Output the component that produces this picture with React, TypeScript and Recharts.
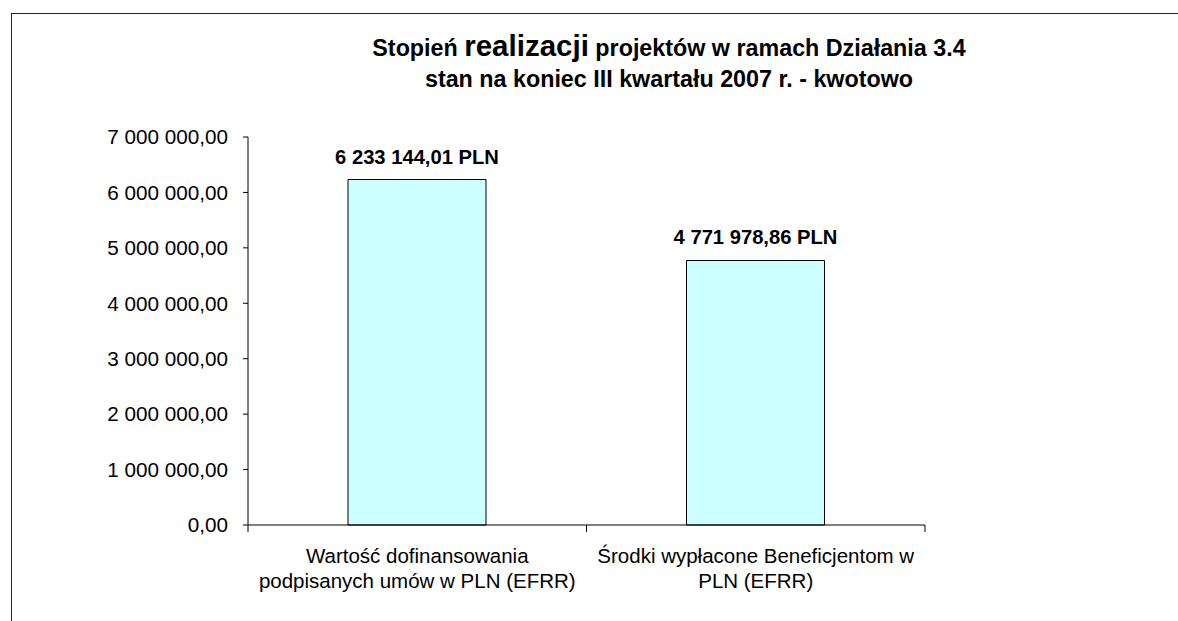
import { Bar, BarChart, LabelList, XAxis, YAxis } from "recharts";

const categories = [
  "Wartość dofinansowania\npodpisanych umów w PLN (EFRR)",
  "Środki wypłacone Beneficjentom w\nPLN (EFRR)"
];
const amounts = [6233144.01, 4771978.86];
const yTicks = [0, 1000000, 2000000, 3000000, 4000000, 5000000, 6000000, 7000000];

const data = categories.map((name, i) => ({ name, value: amounts[i] }));

const fmt = (v: number) => {
  const [int, dec] = v.toFixed(2).split(".");
  return int.replace(/\B(?=(\d{3})+(?!\d))/g, " ") + "," + dec;
};

// category label plus tick marks on the band edges (between categories)
const CategoryTick = (props: any) => {
  const { x, y, payload, index, visibleTicksCount } = props;
  const half = payload.offset || 0;
  const lines = String(payload.value).split("\n");
  const last = index === visibleTicksCount - 1;
  return (
    <g>
      <line x1={x - half} x2={x - half} y1={y} y2={y + 7} stroke="#000" />
      {last && <line x1={x + half} x2={x + half} y1={y} y2={y + 7} stroke="#000" />}
      <text x={x} y={y} textAnchor="middle" fontSize={20.5} fill="#000">
        {lines.map((l: string, i: number) => (
          <tspan key={i} x={x} dy={i === 0 ? 38 : 25}>
            {l}
          </tspan>
        ))}
      </text>
    </g>
  );
};

const titleStyle = {
  position: "absolute" as const,
  left: 0,
  width: 1338,
  textAlign: "center" as const,
  fontWeight: "bold" as const,
  fontSize: 23.3,
  lineHeight: "32px",
  color: "#000",
  whiteSpace: "nowrap" as const
};

export default function App() {
  return (
    <div
      style={{
        position: "absolute",
        left: 0,
        top: 0,
        width: 1178,
        height: 621,
        background: "#fff",
        fontFamily: "'Liberation Sans', Arial, sans-serif"
      }}
    >
      <div
        style={{
          position: "absolute",
          left: 11,
          top: 13,
          width: 1167,
          height: 608,
          borderTop: "1px solid #222",
          borderLeft: "1px solid #222"
        }}
      />
      <div style={{ ...titleStyle, top: 30 }}>
        Stopień <span style={{ fontSize: 29.5 }}>realizacji</span> projektów w ramach Działania 3.4
      </div>
      <div style={{ ...titleStyle, top: 63 }}>stan na koniec III kwartału 2007 r. - kwotowo</div>
      <BarChart
        width={1178}
        height={621}
        data={data}
        margin={{ top: 137, right: 253, bottom: 0, left: 0 }}
        style={{ position: "absolute", left: 0, top: 0 }}
      >
        <XAxis
          dataKey="name"
          tickLine={false}
          tickSize={0}
          tickMargin={0}
          axisLine={{ stroke: "#000" }}
          tick={<CategoryTick />}
          height={96}
          interval={0}
        />
        <YAxis
          width={248}
          domain={[0, 7000000]}
          ticks={yTicks}
          tickFormatter={fmt}
          tickSize={5}
          tickMargin={15}
          axisLine={{ stroke: "#000" }}
          tickLine={{ stroke: "#000" }}
          tick={{ fontSize: 20.7, fill: "#000" }}
        />
        <Bar
          dataKey="value"
          fill="#CCFFFF"
          stroke="#000"
          strokeWidth={1}
          barSize={138}
          isAnimationActive={false}
        >
          <LabelList
            dataKey="value"
            position="top"
            offset={16}
            formatter={(v: any) => fmt(Number(v)) + " PLN"}
            style={{ fontSize: 20.2, fontWeight: "bold", fill: "#000" }}
          />
        </Bar>
      </BarChart>
    </div>
  );
}
